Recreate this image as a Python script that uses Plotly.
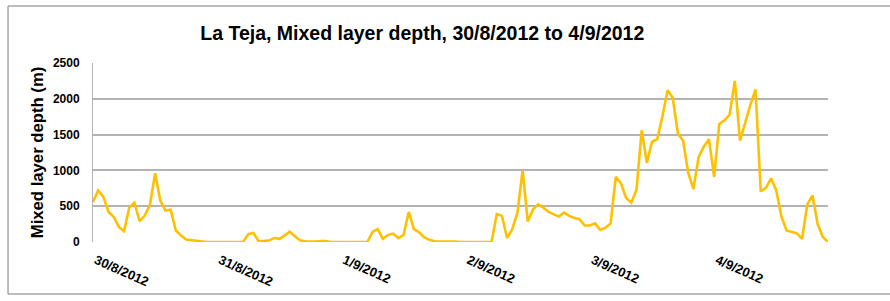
import plotly.graph_objects as go

# hourly samples starting 30/8/2012 00:00
hours = list(range(143))
depth_m = [
    560, 720, 630, 420, 350, 210, 150, 480, 550, 290,
    370, 520, 960, 580, 440, 450, 160, 90, 35, 25,
    10, 0, 0, 0, 0, 0, 0, 0, 0, 0,
    110, 125, 10, 10, 20, 55, 45, 90, 145, 80,
    25, 10, 5, 5, 15, 15, 0, 0, 0, 0,
    0, 0, 0, 0, 140, 180, 45, 100, 115, 55,
    100, 420, 180, 135, 65, 30, 10, 10, 15, 15,
    5, 0, 0, 0, 0, 0, 0, 0, 390, 365,
    55, 180, 410, 1000, 285, 455, 525, 480, 420, 385,
    355, 410, 365, 335, 320, 230, 230, 260, 170, 200,
    260, 910, 820, 615, 550, 730, 1560, 1105, 1400, 1435,
    1750, 2120, 2015, 1515, 1415, 965, 740, 1185, 1330, 1435,
    910, 1650, 1700, 1780, 2250, 1415, 1680, 1915, 2130, 705,
    755, 890, 720, 355, 160, 135, 120, 45, 525, 650,
    250, 70, 0,
]
tick_hours = [0, 24, 48, 72, 96, 120]
tick_labels = ["30/8/2012", "31/8/2012", "1/9/2012", "2/9/2012", "3/9/2012", "4/9/2012"]
y_ticks = [0, 500, 1000, 1500, 2000, 2500]

FONT = "Liberation Sans, Arial, sans-serif"
GRID = "#b3b3b3"
FRAME = dict(color="#a6a6a6", width=1.5)

fig = go.Figure()
fig.add_trace(go.Scatter(
    x=hours, y=depth_m, mode="lines",
    line=dict(color="#FFC000", width=2.6),
    hoverinfo="x+y", showlegend=False,
))

# chart-area frame (left, top, bottom edges; right edge is outside the picture)
fx0, fx1, fy0, fy1 = -0.1156, 1.4, -0.29, 1.318
frame = [
    dict(type="line", xref="paper", yref="paper", x0=fx0, x1=fx0, y0=fy0, y1=fy1, line=FRAME, layer="below"),
    dict(type="line", xref="paper", yref="paper", x0=fx0, x1=fx1, y0=fy1, y1=fy1, line=FRAME, layer="below"),
    dict(type="line", xref="paper", yref="paper", x0=fx0, x1=fx1, y0=fy0, y1=fy0, line=FRAME, layer="below"),
]

fig.update_layout(
    width=890, height=301,
    margin=dict(l=93, r=62, t=63, b=55),
    paper_bgcolor="white", plot_bgcolor="white",
    title=dict(
        text="<b>La Teja, Mixed layer depth, 30/8/2012 to 4/9/2012</b>",
        xref="paper", x=0.448, xanchor="center",
        y=0.890, yanchor="middle",
        font=dict(family=FONT, size=19.5, color="black"),
    ),
    font=dict(family=FONT, color="black"),
    shapes=frame,
)

fig.update_xaxes(
    range=[0, 142], tickmode="array", tickvals=tick_hours, ticktext=tick_labels,
    tickangle=24, showgrid=False, zeroline=False, showline=False,
    ticks="outside", ticklen=5, tickcolor="rgba(0,0,0,0)",
    ticklabelshift=3,
    tickfont=dict(family=FONT, size=13, color="black", weight="bold"),
)
fig.update_yaxes(
    range=[0, 2500], tickmode="array", tickvals=y_ticks,
    showgrid=True, gridcolor=GRID, gridwidth=1.5, zeroline=False,
    showline=True, linecolor=GRID, linewidth=1,
    ticks="outside", ticklen=10, tickcolor="rgba(0,0,0,0)",
    tickfont=dict(family=FONT, size=12, color="black", weight="bold"),
    title=dict(text="<b>Mixed layer depth (m)</b>", standoff=5,
               font=dict(family=FONT, size=16.7, color="black")),
)

fig.write_html(
    "out.html",
    config={"displayModeBar": False},
    post_script="document.body.style.margin='0px';",
)
